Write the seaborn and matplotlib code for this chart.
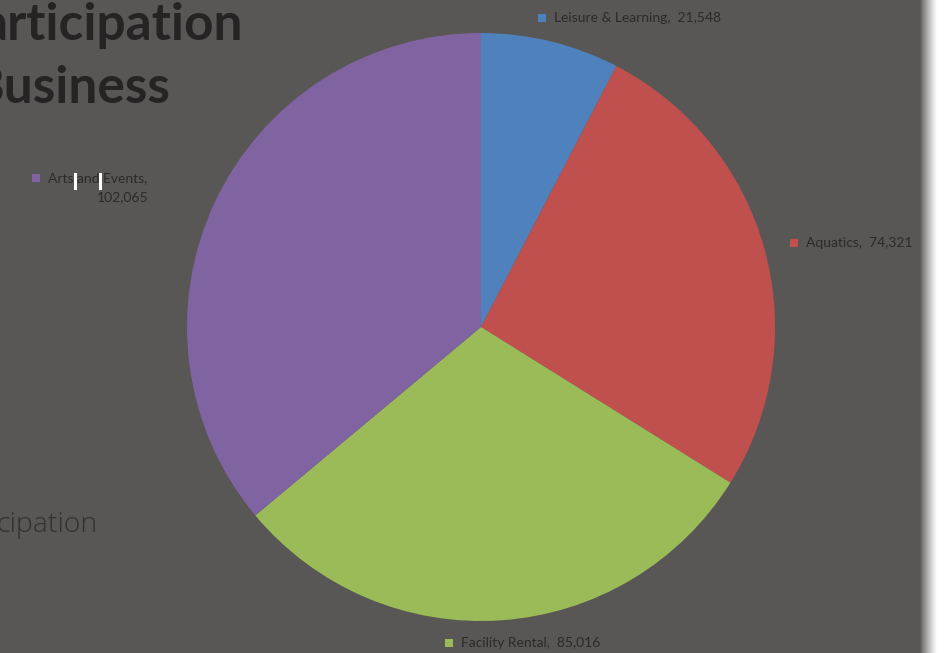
import numpy as np
import matplotlib
matplotlib.use("Agg")
import matplotlib.pyplot as plt
import seaborn as sns

# Participation by business line
categories = ["Leisure & Learning", "Aquatics", "Facility Rental", "Arts and Events"]
values = [21548, 74321, 85016, 102065]
colors = ["#4f81bd", "#c0504d", "#9bbb59", "#8064a2"]

BG = "#595755"
TXT = "#2b2a2a"

sns.set_theme(style="white")
plt.rcParams["font.family"] = ["Lato", "DejaVu Sans"]

W, H = 944, 653
fig = plt.figure(figsize=(W / 100, H / 100), dpi=100, facecolor=BG)

def fx(px):
    return px / W

def fy(py):
    return 1 - py / H

# Background headings running off the left side of the page
head_font = ["Lato", "DejaVu Sans"]
fig.text(fx(243), fy(40), "articipation", ha="right", va="baseline",
         fontsize=37, fontweight="bold", color="#252324", family=head_font)
fig.text(fx(171), fy(103), "Business", ha="right", va="baseline",
         fontsize=37, fontweight="bold", color="#252324", family=head_font)
fig.text(fx(98), fy(532), "cipation", ha="right", va="baseline",
         fontsize=20.5, fontweight="light", color="#333131",
         family=["Open Sans", "DejaVu Sans"])

# Pie
cx, cy, r = 481, 327, 294
ax = fig.add_axes([fx(cx - r), fy(cy + r), (2 * r) / W, (2 * r) / H])
ax.pie(values, colors=colors, startangle=90, counterclock=False, radius=1,
       wedgeprops=dict(linewidth=0))
ax.set_xlim(-1, 1)
ax.set_ylim(-1, 1)
ax.set_aspect("auto")
ax.axis("off")

# Data labels with small colour keys
label_pos = [(542, 18, False), (794, 243, False), (449, 643, False), (36, 178, True)]
for cat, val, col, (mx, my, wrap) in zip(categories, values, colors, label_pos):
    fig.patches.append(plt.Rectangle((fx(mx - 4), fy(my + 4)), 8 / W, 8 / H,
                                     transform=fig.transFigure, facecolor=col,
                                     edgecolor="none"))
    if wrap:
        fig.text(fx(mx + 12), fy(my), f"{cat},", ha="left", va="center",
                 fontsize=10, color=TXT)
        fig.text(fx(148), fy(my + 19), f"{val:,}", ha="right", va="center",
                 fontsize=10, color=TXT)
    else:
        fig.text(fx(mx + 12), fy(my), f"{cat},  {val:,}", ha="left", va="center",
                 fontsize=10, color=TXT)

# Caret marks inside the Arts label
for x0 in (74, 99):
    fig.patches.append(plt.Rectangle((fx(x0), fy(190)), 3 / W, 17 / H,
                                     transform=fig.transFigure, facecolor="white",
                                     edgecolor="none"))

# Page edge shadow on the right
sax = fig.add_axes([fx(918), 0, 26 / W, 1])
bg_rgb = np.array(matplotlib.colors.to_rgb(BG))
t = np.linspace(0, 1, 64)
t = np.clip((t - 0.08) / 0.65, 0, 1) ** 0.8
grad = bg_rgb[None, :] * (1 - t[:, None]) + np.ones(3)[None, :] * t[:, None]
grad = np.clip(grad, 0, 1)
sax.imshow(grad[None, :, :], aspect="auto", extent=[0, 1, 0, 1], interpolation="bilinear")
sax.axis("off")

fig.savefig("out.png", dpi=100, facecolor=BG)
